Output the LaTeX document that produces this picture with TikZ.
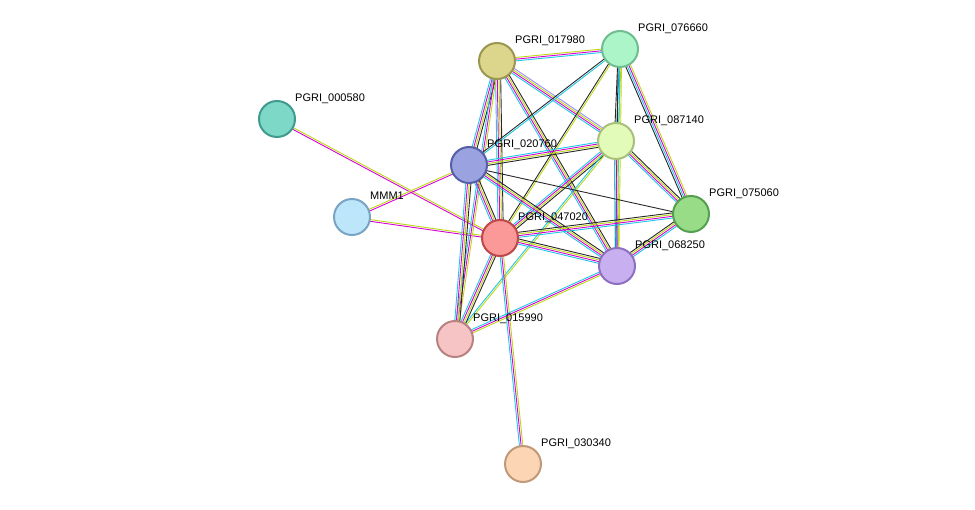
\documentclass[tikz,border=0pt]{standalone}
\usepackage{fontspec}
\setmainfont{Liberation Sans}
\usepackage{tikz}
\usetikzlibrary{calc}
\usetikzlibrary{backgrounds}
\pgfdeclarelayer{background}
\pgfsetlayers{background,main}

\definecolor{cdb}{RGB}{30,200,230}
\definecolor{cex}{RGB}{215,0,215}
\definecolor{ctm}{RGB}{190,215,20}
\definecolor{cco}{RGB}{40,40,40}
\definecolor{cvi}{RGB}{150,140,250}

\tikzset{
  prot/.style={circle, minimum size=36pt, inner sep=0pt, line width=2pt},
  lbl/.style={anchor=base west, inner sep=0pt, font=\fontsize{11}{13}\selectfont},
}

% one coloured line per evidence channel
\newcommand{\link}[3]{%
  \foreach \c [count=\i] in {#3}{%
    \draw[\c, line width=0.9pt]
      ($(#1)!{(\i-2)*1.7pt}!90:(#2)$) -- ($(#2)!{(\i-2)*1.7pt}!-90:(#1)$);
  }}

\begin{document}
\begin{tikzpicture}[x=1pt, y=-1pt]
  \useasboundingbox (0,0) rectangle (975,510);

  \node[prot, fill={rgb,255:red,220;green,214;blue,140}, draw={rgb,255:red,155;green,150;blue,80}] (p017980) at (497,61) {};
  \node[prot, fill={rgb,255:red,172;green,245;blue,200}, draw={rgb,255:red,110;green,190;blue,143}] (p076660) at (620,49) {};
  \node[prot, fill={rgb,255:red,126;green,216;blue,200}, draw={rgb,255:red,63;green,155;blue,142}] (p000580) at (277,119) {};
  \node[prot, fill={rgb,255:red,227;green,251;blue,184}, draw={rgb,255:red,168;green,192;blue,122}] (p087140) at (616,141) {};
  \node[prot, fill={rgb,255:red,154;green,162;blue,224}, draw={rgb,255:red,85;green,96;blue,168}] (p020760) at (469,165) {};
  \node[prot, fill={rgb,255:red,189;green,230;blue,251}, draw={rgb,255:red,122;green,164;blue,196}] (mmm1) at (352,217) {};
  \node[prot, fill={rgb,255:red,152;green,220;blue,136}, draw={rgb,255:red,85;green,160;blue,80}] (p075060) at (691,214) {};
  \node[prot, fill={rgb,255:red,251;green,152;blue,152}, draw={rgb,255:red,192;green,72;blue,72}] (p047020) at (500,238) {};
  \node[prot, fill={rgb,255:red,200;green,176;blue,240}, draw={rgb,255:red,142;green,112;blue,192}] (p068250) at (617,266) {};
  \node[prot, fill={rgb,255:red,246;green,196;blue,196}, draw={rgb,255:red,184;green,130;blue,130}] (p015990) at (455,339) {};
  \node[prot, fill={rgb,255:red,252;green,214;blue,180}, draw={rgb,255:red,192;green,154;blue,120}] (p030340) at (523,464) {};

  % labels
  \node[lbl] (l017980) at ($(p017980)+(18,-17)$) {PGRI\_017980};
  \node[lbl] (l076660) at ($(p076660)+(18,-17)$) {PGRI\_076660};
  \node[lbl] (l000580) at ($(p000580)+(18,-17)$) {PGRI\_000580};
  \node[lbl] (l087140) at ($(p087140)+(18,-17)$) {PGRI\_087140};
  \node[lbl] (l020760) at ($(p020760)+(18,-17)$) {PGRI\_020760};
  \node[lbl] (lmmm1) at ($(mmm1)+(18,-17)$) {MMM1};
  \node[lbl] (l075060) at ($(p075060)+(18,-17)$) {PGRI\_075060};
  \node[lbl] (l047020) at ($(p047020)+(18,-17)$) {PGRI\_047020};
  \node[lbl] (l068250) at ($(p068250)+(18,-17)$) {PGRI\_068250};
  \node[lbl] (l015990) at ($(p015990)+(18,-17)$) {PGRI\_015990};
  \node[lbl] (l030340) at ($(p030340)+(18,-17)$) {PGRI\_030340};

  \begin{pgfonlayer}{background}
    \link{p000580}{p047020}{cex,ctm}
    \link{mmm1}{p047020}{cex,ctm}
    \link{mmm1}{p020760}{cex,ctm}
    \link{p017980}{p020760}{cdb,cex,ctm,cco}
    \link{p017980}{p047020}{cdb,cex,ctm,cco}
    \link{p017980}{p015990}{cdb,cex,ctm}
    \link{p017980}{p076660}{cdb,cex,ctm}
    \link{p017980}{p087140}{cdb,cex,ctm,cvi}
    \link{p017980}{p068250}{cdb,cex,ctm,cco}
    \link{p076660}{p020760}{cco,cdb}
    \link{p076660}{p047020}{cco,ctm}
    \link{p076660}{p087140}{cco,cdb,ctm}
    \link{p076660}{p075060}{cco,cdb,cex,ctm}
    \link{p076660}{p068250}{cco,cdb,ctm}
    \link{p087140}{p020760}{cdb,cex,ctm,cco}
    \link{p087140}{p047020}{cdb,cex,ctm,cco}
    \link{p087140}{p068250}{cdb,cex,ctm}
    \link{p087140}{p075060}{cdb,cex,ctm,cco}
    \link{p087140}{p015990}{cdb,ctm}
    \link{p020760}{p047020}{cdb,cex,ctm,cco}
    \link{p020760}{p075060}{cco}
    \link{p020760}{p068250}{cdb,cex,ctm,cco}
    \link{p020760}{p015990}{cdb,cex,ctm,cco}
    \link{p047020}{p075060}{cdb,cex,ctm,cco}
    \link{p047020}{p068250}{cdb,cex,ctm,cco}
    \link{p047020}{p015990}{cdb,cex,ctm,cco}
    \link{p047020}{p030340}{cdb,cex,ctm}
    \link{p068250}{p075060}{cdb,cex,ctm,cco}
    \link{p068250}{p015990}{cdb,cex,ctm}
  \end{pgfonlayer}
\end{tikzpicture}
\end{document}
